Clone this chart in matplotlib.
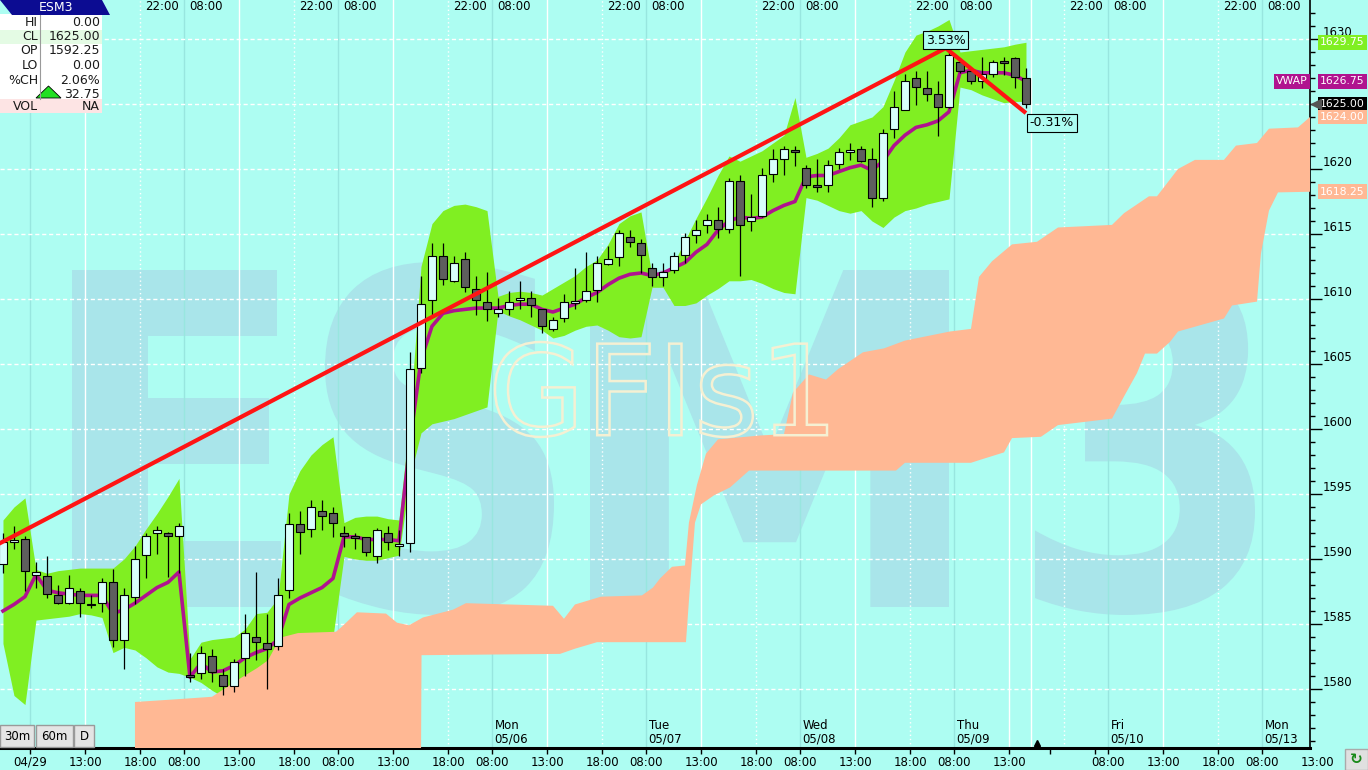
import numpy as np
import matplotlib
matplotlib.use('Agg')
import matplotlib.pyplot as plt
import matplotlib.transforms as mtransforms
from matplotlib.patches import Rectangle, Polygon, PathPatch
from matplotlib.textpath import TextPath
from matplotlib.font_manager import FontProperties

plt.rcParams.update({'font.family': 'DejaVu Sans', 'font.size': 8.5})

# Barras horarias (indice de barra en el eje x)
opens = [1589.6, 1591.4, 1591.5, 1588.8, 1588.7, 1587.2, 1586.6, 1587.5, 1586.5, 1586.6,
         1588.2, 1583.8, 1587.1, 1590.3, 1592.0, 1592.0, 1591.8, 1581.1, 1581.2, 1582.5,
         1581.1, 1580.2, 1582.4, 1584.0, 1583.5, 1583.3, 1587.6, 1592.7, 1592.3, 1593.7,
         1593.5, 1592.0, 1591.7, 1591.7, 1590.2, 1592.0, 1591.1, 1591.2, 1604.7, 1609.9,
         1613.3, 1611.4, 1613.1, 1610.8, 1609.8, 1608.9, 1609.2, 1609.9, 1610.1, 1609.2,
         1607.7, 1608.5, 1609.8, 1609.9, 1610.7, 1612.7, 1613.2, 1614.8, 1614.3, 1612.4,
         1611.7, 1612.2, 1613.4, 1614.9, 1615.7, 1616.1, 1615.4, 1619.1, 1616.0, 1616.4,
         1619.6, 1620.8, 1621.5, 1620.1, 1618.7, 1618.8, 1620.4, 1621.4, 1621.5, 1620.8,
         1617.8, 1623.1, 1624.5, 1627.0, 1626.2, 1625.8, 1624.8, 1628.2, 1627.5, 1626.8,
         1627.3, 1628.2, 1628.5, 1627.0]
highs = [1592.0, 1592.5, 1591.8, 1589.8, 1590.2, 1588.0, 1588.8, 1587.8, 1587.2, 1588.5,
         1589.2, 1587.8, 1591.0, 1592.0, 1592.5, 1592.1, 1592.8, 1582.8, 1583.3, 1583.1,
         1581.5, 1582.3, 1585.8, 1589.0, 1585.8, 1588.5, 1593.5, 1593.7, 1594.5, 1594.5,
         1594.0, 1592.5, 1592.0, 1591.7, 1592.4, 1592.5, 1592.2, 1605.9, 1611.8, 1614.3,
         1614.3, 1613.3, 1613.6, 1611.8, 1612.1, 1610.1, 1610.6, 1611.4, 1610.6, 1609.2,
         1608.6, 1610.4, 1612.4, 1613.6, 1613.3, 1614.1, 1615.3, 1615.3, 1614.6, 1612.8,
         1612.8, 1613.6, 1615.1, 1616.1, 1616.5, 1617.1, 1619.3, 1619.5, 1618.1, 1620.1,
         1621.5, 1621.8, 1621.8, 1620.3, 1620.8, 1620.7, 1621.6, 1622.0, 1621.8, 1621.6,
         1623.1, 1626.0, 1627.3, 1627.5, 1627.5, 1626.8, 1629.0, 1628.5, 1627.8, 1628.6,
         1628.4, 1628.6, 1628.6, 1627.8]
lows = [1588.9, 1590.8, 1587.5, 1587.8, 1587.0, 1586.5, 1586.5, 1585.5, 1586.2, 1585.9,
        1583.2, 1581.5, 1586.5, 1588.5, 1590.4, 1588.6, 1588.9, 1580.5, 1580.8, 1580.5,
        1579.5, 1579.8, 1581.0, 1582.2, 1580.0, 1583.0, 1587.0, 1590.4, 1591.7, 1592.2,
        1591.7, 1590.9, 1590.8, 1590.2, 1589.7, 1590.7, 1590.2, 1590.5, 1604.3, 1608.7,
        1611.1, 1611.3, 1610.5, 1608.8, 1608.3, 1608.6, 1608.8, 1609.2, 1608.6, 1607.4,
        1607.5, 1608.2, 1609.2, 1609.8, 1609.8, 1612.6, 1612.5, 1614.0, 1612.0, 1611.0,
        1611.0, 1612.0, 1612.8, 1614.3, 1615.1, 1614.7, 1615.1, 1611.8, 1615.2, 1616.3,
        1619.0, 1619.5, 1620.2, 1618.5, 1618.2, 1618.2, 1620.0, 1620.7, 1620.5, 1617.1,
        1617.5, 1622.4, 1624.5, 1624.9, 1625.2, 1622.5, 1624.7, 1627.4, 1626.5, 1626.2,
        1627.1, 1627.2, 1626.2, 1624.7]
closes = [1591.3, 1591.5, 1589.1, 1589.0, 1587.3, 1586.6, 1587.8, 1586.6, 1586.5, 1588.2,
          1583.8, 1587.2, 1590.0, 1591.8, 1592.2, 1591.8, 1592.5, 1580.9, 1582.8, 1581.3,
          1580.2, 1582.1, 1584.3, 1583.6, 1583.1, 1587.2, 1592.7, 1592.1, 1594.0, 1593.3,
          1592.8, 1591.8, 1591.7, 1590.5, 1592.2, 1591.3, 1591.2, 1604.6, 1609.6, 1613.3,
          1611.5, 1612.8, 1610.9, 1609.9, 1609.2, 1609.2, 1609.8, 1610.1, 1609.5, 1607.9,
          1608.4, 1609.8, 1609.9, 1610.6, 1612.8, 1613.1, 1615.1, 1614.4, 1613.4, 1611.7,
          1612.1, 1613.3, 1614.8, 1615.3, 1616.1, 1615.4, 1619.1, 1615.7, 1616.3, 1619.5,
          1620.8, 1621.5, 1621.4, 1618.8, 1618.7, 1620.3, 1621.3, 1621.5, 1620.6, 1617.8,
          1622.8, 1624.8, 1626.8, 1626.3, 1625.8, 1624.8, 1628.8, 1627.5, 1626.8, 1627.3,
          1628.2, 1628.2, 1627.1, 1625.0]

# VWAP y bandas
vwap = [1586.0, 1586.5, 1587.1, 1588.8, 1587.6, 1587.4, 1587.3, 1587.2, 1587.2, 1587.2,
        1585.8, 1586.1, 1586.6, 1587.2, 1587.8, 1588.2, 1589.0, 1580.9, 1582.0, 1581.3,
        1581.4, 1581.8, 1582.4, 1582.8, 1583.1, 1583.8, 1586.5, 1587.0, 1587.4, 1587.8,
        1588.5, 1591.7, 1591.7, 1591.5, 1591.5, 1591.5, 1591.4, 1599.0, 1605.3, 1607.9,
        1608.9, 1609.1, 1609.2, 1609.3, 1609.3, 1609.3, 1609.5, 1609.6, 1609.6, 1609.2,
        1609.0, 1609.3, 1609.6, 1610.1, 1610.5, 1611.1, 1611.6, 1611.9, 1612.0, 1611.8,
        1612.0, 1612.4, 1612.8, 1613.6, 1614.2, 1615.3, 1616.0, 1616.3, 1616.2, 1616.3,
        1616.8, 1617.2, 1617.5, 1619.4, 1619.5, 1619.5, 1619.8, 1620.1, 1620.3, 1619.9,
        1620.6, 1621.8, 1622.6, 1623.2, 1623.4, 1623.7, 1624.4, 1627.4, 1627.6, 1627.4,
        1627.4, 1627.4, 1627.2, 1626.75]
band_upper = [1593.0, 1594.0, 1594.7, 1589.2, 1588.9, 1589.1, 1589.2, 1589.3, 1589.3, 1589.3,
              1589.3, 1590.0, 1591.0, 1592.3, 1593.5, 1594.8, 1596.2, 1582.3, 1583.6, 1583.8,
              1583.9, 1584.0, 1584.6, 1585.8, 1585.9, 1587.0, 1595.0, 1596.8, 1598.0, 1598.8,
              1599.4, 1592.8, 1593.2, 1593.3, 1593.3, 1593.1, 1593.0, 1601.0, 1612.5, 1615.8,
              1616.8, 1617.2, 1617.3, 1617.1, 1616.8, 1610.2, 1610.5, 1610.6, 1610.5, 1610.3,
              1610.8, 1611.3, 1611.8, 1612.5, 1613.0, 1614.2, 1615.8, 1616.4, 1616.7, 1611.8,
              1611.8, 1612.8, 1614.5, 1616.2, 1617.8, 1619.5, 1621.0, 1620.6, 1621.0, 1621.4,
              1622.0, 1622.6, 1625.5, 1620.9, 1621.2, 1621.6, 1622.4, 1623.4, 1623.7, 1624.0,
              1624.8, 1626.8, 1629.0, 1630.3, 1630.6, 1631.0, 1631.5, 1629.0, 1629.1, 1629.2,
              1629.3, 1629.4, 1629.6, 1629.75]
band_lower = [1583.5, 1579.5, 1578.8, 1585.3, 1585.4, 1585.5, 1585.6, 1585.8, 1585.7, 1585.5,
              1582.8, 1583.2, 1583.0, 1582.4, 1581.7, 1581.3, 1581.2, 1580.9, 1580.5, 1579.9,
              1579.4, 1579.4, 1579.6, 1580.0, 1580.5, 1581.0, 1581.5, 1582.0, 1583.0, 1583.5,
              1584.0, 1590.2, 1590.0, 1589.9, 1589.9, 1590.1, 1590.3, 1596.3, 1599.7, 1600.4,
              1600.6, 1600.8, 1601.1, 1601.4, 1601.7, 1609.1, 1608.7, 1608.4, 1608.0, 1607.6,
              1607.0, 1607.2, 1607.6, 1607.9, 1608.0, 1607.6, 1607.1, 1607.0, 1607.1, 1610.9,
              1610.9, 1609.5, 1609.5, 1609.7, 1610.3, 1610.8, 1611.4, 1611.4, 1611.5, 1611.2,
              1610.8, 1610.5, 1610.4, 1617.8, 1617.6, 1617.2, 1616.8, 1616.6, 1616.8, 1616.0,
              1615.5, 1616.3, 1616.8, 1617.0, 1617.3, 1617.5, 1617.7, 1626.3, 1626.1, 1625.7,
              1625.4, 1625.1, 1625.2, 1625.2]

# Nube (borde superior e inferior, x en barras)
cloud_top_x = [12.0, 15.64, 19.0, 19.73, 21.73, 23.09, 24.09, 24.73, 25.45, 26.82,
               30.27, 30.82, 32.18, 34.82, 35.82, 36.91, 38.18, 40.91, 42.09, 50.0,
               51.0, 52.0, 54.36, 58.09, 59.09, 59.73, 60.82, 62.0, 62.36, 63.09,
               63.91, 65.0, 68.82, 71.0, 71.82, 73.27, 74.82, 75.91, 78.18, 80.09,
               82.0, 86.09, 88.0, 88.73, 89.91, 91.73, 94.0, 95.91, 100.82, 101.91,
               104.18, 104.91, 106.82, 108.36, 111.0, 112.09, 114.0, 115.09, 117.73, 118.82]
cloud_top = [1579.0, 1579.2, 1579.4, 1579.8, 1580.9, 1581.6, 1582.2, 1583.2, 1584.0, 1584.3,
             1584.4, 1584.8, 1585.9, 1585.8, 1585.1, 1584.9, 1585.5, 1586.1, 1586.6, 1586.4,
             1585.4, 1586.5, 1587.1, 1587.2, 1587.8, 1588.5, 1589.4, 1589.5, 1592.8, 1595.7,
             1598.1, 1599.2, 1599.5, 1599.6, 1602.8, 1604.2, 1603.8, 1604.6, 1605.9, 1606.2,
             1606.8, 1607.5, 1607.7, 1611.7, 1612.9, 1614.2, 1614.4, 1615.5, 1615.7, 1616.6,
             1617.9, 1617.9, 1620.0, 1620.7, 1620.7, 1621.8, 1622.0, 1623.1, 1623.2, 1624.0]
cloud_bot_x = [12.0, 38.0, 38.05, 50.64, 52.0, 54.0, 62.09, 62.36, 62.91, 63.45,
               64.64, 66.09, 67.82, 81.18, 82.0, 88.0, 88.73, 91.0, 91.73, 94.36,
               95.91, 100.82, 101.91, 103.09, 103.82, 104.91, 106.09, 106.82, 111.0, 111.73,
               114.0, 114.36, 115.09, 115.91, 118.82]
cloud_bot = [1574.0, 1574.0, 1582.6, 1582.7, 1583.1, 1583.6, 1583.6, 1586.8, 1592.8, 1594.2,
             1594.9, 1595.5, 1596.8, 1596.8, 1597.4, 1597.4, 1597.6, 1598.2, 1599.3, 1599.4,
             1600.3, 1600.8, 1602.5, 1604.3, 1605.8, 1605.8, 1606.7, 1607.5, 1608.5, 1609.5,
             1609.8, 1613.5, 1616.8, 1618.2, 1618.25]

# Linea de tendencia dibujada
trend_x = [-39.7, 85.7, 93.0]
trend_y = [1573.75, 1629.3, 1624.3]
trend_pct = ['3.53%', '-0.31%']

# Etiquetas de precio del eje derecho
marker_prices = [1629.75, 1626.75, 1625.00, 1624.00, 1618.25]
price_ticks = [1580, 1585, 1590, 1595, 1600, 1605, 1610, 1615, 1620, 1625, 1630]
# la etiqueta 1625 queda tapada por la caja del ultimo precio
price_tick_lab = ['1580', '1585', '1590', '1595', '1600', '1605', '1610', '1615', '1620', '', '1630']

# Panel de cotizacion
info_labels = ['HI', 'CL', 'OP', 'LO', '%CH', '', 'VOL']
info_values = ['0.00', '1625.00', '1592.25', '0.00', '2.06%', '32.75', 'NA']

# Eje temporal
xtick_pos = [2.5, 7.5, 12.5, 16.5, 21.5, 26.5, 30.5, 35.5, 40.5, 44.5, 49.5, 54.5,
             58.5, 63.5, 68.5, 72.5, 77.5, 82.5, 86.5, 91.5, 95.2, 99.3, 100.5, 105.5,
             110.5, 114.5]
xtick_lab = ['04/29', '13:00', '18:00', '08:00', '13:00', '18:00', '08:00', '13:00', '18:00',
             '08:00', '13:00', '18:00', '08:00', '13:00', '18:00', '08:00', '13:00', '18:00',
             '08:00', '13:00', '', '', '08:00', '13:00', '18:00', '08:00']
day_pos = [44.5, 58.5, 72.5, 86.5, 100.5, 114.5]
day_lab = ['Mon\n05/06', 'Tue\n05/07', 'Wed\n05/08', 'Thu\n05/09', 'Fri\n05/10', 'Mon\n05/13']
top_pos = [12.9, 16.9, 26.9, 30.9, 40.9, 44.9, 54.9, 58.9, 68.9, 72.9, 82.9, 86.9,
           96.9, 100.9, 110.9, 114.9]
top_lab = ['22:00', '08:00'] * 8

# Colores
BG = '#adfdf2'
WM = '#a9e5ea'
GREEN = '#80ef22'
SALMON = '#ffb894'
MAGENTA = '#b0138f'
RED = '#ff1414'
UP = '#d8fffb'
DOWN = '#5e5e5e'
CREAM = '#f5f0d3'

W, H = 1368, 770
fig = plt.figure(figsize=(W / 100, H / 100), dpi=100)
fig.patch.set_facecolor(BG)
ax = fig.add_axes([0, 22 / H, 1310 / W, 748 / H])
ax.set_facecolor(BG)
ax.set_xlim(-0.27, 118.82)
ax.set_ylim(1575.46, 1633.0)

bars = np.arange(len(opens))
blend_x = mtransforms.blended_transform_factory(ax.transData, ax.transAxes)
blend_y = mtransforms.blended_transform_factory(ax.transAxes, ax.transData)


def pix(px, py):
    return ax.transData.inverted().transform((px, H - py))


def text_patch(s, box, weight, **kw):
    tp = TextPath((0, 0), s, size=100, prop=FontProperties(family='DejaVu Sans', weight=weight))
    ext = tp.get_extents()
    x0, y1 = pix(box[0], box[1])
    x1, y0 = pix(box[2], box[3])
    tr = (mtransforms.Affine2D().translate(-ext.x0, -ext.y0)
          .scale((x1 - x0) / ext.width, (y1 - y0) / ext.height).translate(x0, y0))
    return PathPatch(tr.transform_path(tp), transform=ax.transData, **kw)


# Marca de agua
for ch, box in zip('ESM3', [(72, 270, 281, 607), (325, 262, 554, 615),
                            (590, 270, 949, 607), (1035, 262, 1255, 615)]):
    ax.add_patch(text_patch(ch, box, 'bold', fc=WM, ec='none', zorder=0.5))

# Rejilla
for k in range(9):
    ax.axvline(2.5 + 14 * k, color='#98e6df', lw=1, zorder=1)
    ax.axvline(7.5 + 14 * k, color='white', lw=1, zorder=1)
    ax.axvline(12.5 + 14 * k, color='white', lw=1, ls=(0, (1, 2)), zorder=1)
ax.axvline(93.45, color='white', lw=1, zorder=1)
for p in price_ticks:
    ax.axhline(p, color='white', lw=1, ls=(0, (3, 2)), zorder=1)

# Bandas VWAP y nube
ax.fill_between(bars, band_lower, band_upper, color=GREEN, lw=0, zorder=2)
ax.fill(cloud_top_x + cloud_bot_x[::-1], cloud_top + cloud_bot[::-1], color=SALMON, lw=0, zorder=3)
ax.add_patch(text_patch('GFIs1', (495, 342, 827, 437), 'normal', fc='none', ec=CREAM, lw=1.8, zorder=3.5))

ax.plot(bars, vwap, color=MAGENTA, lw=2.6, zorder=4.2)

# Velas
o = np.array(opens); c = np.array(closes)
body_h = np.maximum(np.abs(c - o), 0.15)
body_b = np.where(np.abs(c - o) < 0.15, np.minimum(o, c) - 0.075, np.minimum(o, c))
colors = [UP if cc > oo else DOWN for oo, cc in zip(opens, closes)]
ax.vlines(bars, lows, highs, color='black', lw=0.9, zorder=4.5)
ax.bar(bars, body_h, bottom=body_b, width=0.72, color=colors, edgecolor='black', linewidth=0.8, zorder=4.6)

# Tendencia
ax.plot(trend_x, trend_y, color=RED, lw=3, zorder=6, solid_capstyle='butt')
box_kw = dict(boxstyle='square,pad=0.2', fc=BG, ec='black', lw=0.8)
ax.text(trend_x[1], trend_y[1] + 0.12, trend_pct[0], ha='center', va='bottom', fontsize=9, bbox=box_kw, zorder=7)
ax.text(trend_x[2] + 0.35, trend_y[2] - 0.25, trend_pct[1], ha='left', va='top', fontsize=9, bbox=box_kw, zorder=7)

# Ejes
for s in ['left', 'top']:
    ax.spines[s].set_visible(False)
ax.spines['right'].set_linewidth(1.2)
ax.spines['bottom'].set_linewidth(2.2)
ax.yaxis.tick_right()
ax.set_yticks(price_ticks)
ax.set_yticklabels(price_tick_lab)
ax.set_yticks(np.arange(1576, 1633), minor=True)
ax.tick_params(axis='y', which='major', length=8.6, width=1, pad=0.5, labelsize=8.5)
ax.tick_params(axis='y', which='minor', length=3.6, width=1)
for t in ax.yaxis.get_major_ticks():
    t.label2.set_verticalalignment('bottom')
ax.set_xticks(xtick_pos)
ax.set_xticklabels(xtick_lab)
ax.tick_params(axis='x', length=4, width=1, pad=1.5, labelsize=8.5)
ax.text(119.5, -0.019, '13:00', transform=blend_x, ha='center', va='center', fontsize=8.5, clip_on=False)

for xp, lab in zip(day_pos, day_lab):
    ax.text(xp + 0.2, 0.004, lab, transform=blend_x, ha='left', va='bottom', fontsize=8.5,
            linespacing=1.0, zorder=8)
for xp, lab in zip(top_pos, top_lab):
    ax.text(xp, 1 - 7 / 748, lab, transform=blend_x, ha='left', va='center', fontsize=8.5, zorder=8)
ax.plot([94.0], [0.007], marker='^', ms=5, color='black', transform=blend_x, clip_on=False, zorder=9)

# Etiquetas de precio a la derecha
mk_colors = [GREEN, MAGENTA, 'black', SALMON, SALMON]
for val, fc in zip(marker_prices, mk_colors):
    ax.text(1.0076, val, f'{val:.2f}', transform=blend_y, ha='left', va='center', color='white',
            fontsize=7.8, bbox=dict(boxstyle='square,pad=0.22', fc=fc, ec='none'), clip_on=False, zorder=9)
ax.text(0.9985, marker_prices[1], 'VWAP', transform=blend_y, ha='right', va='center', color='white',
        fontsize=7.8, bbox=dict(boxstyle='square,pad=0.22', fc=MAGENTA, ec='none'), clip_on=False, zorder=9)
ax.plot([1.0046], [marker_prices[2]], marker='<', ms=7, color='#555555', transform=blend_y,
        clip_on=False, zorder=9)

# Capa de interfaz en pixeles
ui = fig.add_axes([0, 0, 1, 1], zorder=10)
ui.set_xlim(0, W)
ui.set_ylim(H, 0)
ui.axis('off')

ui.add_patch(Rectangle((0, 14), 102, 99, fc='white', ec='none'))
ui.add_patch(Rectangle((0, 29.5), 102, 14, fc='#e4fbe4', ec='none'))
ui.add_patch(Rectangle((0, 99), 102, 14, fc='#fde4e4', ec='none'))
ui.add_patch(Polygon([(0, 0), (102, 0), (110, 15), (12, 15)], fc='#0c0c92', ec='none'))
ui.text(56, 7.5, 'ESM3', color='white', ha='center', va='center', fontsize=9)
ui.plot([40, 40], [15, 99], color='#9a9a9a', lw=0.8)
rows_y = [22, 36.5, 51, 65.5, 80, 94, 106.5]
for yy, lab, val in zip(rows_y, info_labels, info_values):
    ui.text(38, yy, lab, ha='right', va='center', fontsize=9, color='#1a1a1a')
    ui.text(100, yy, val, ha='right', va='center', fontsize=9, color='#1a1a1a')
ui.add_patch(Polygon([(36, 98), (61, 98), (48.5, 86)], fc='#22e022', ec='black', lw=0.6))

for lab, x0, x1 in [('30m', 0, 34), ('60m', 36, 73), ('D', 74, 94)]:
    ui.add_patch(Rectangle((x0, 725), x1 - x0, 22, fc='#e4e4e4', ec='#9a9a9a', lw=1))
    ui.text((x0 + x1) / 2, 736, lab, ha='center', va='center', fontsize=8.5)

ui.add_patch(Rectangle((1345, 749), 23, 21, fc='#e0e0e0', ec='#aaaaaa', lw=1))
ui.text(1356.5, 759.5, '\u21bb', ha='center', va='center', fontsize=11, color='#1a8a1a', fontweight='bold')

fig.savefig('out.png', dpi=100, facecolor=BG)
